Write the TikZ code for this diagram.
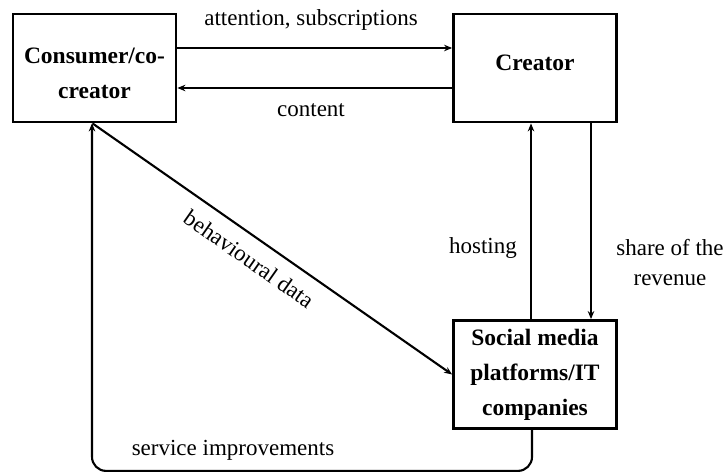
\documentclass[tikz,border=0pt]{standalone}
\usepackage{fontspec}
\setmainfont{Liberation Serif}
\usetikzlibrary{arrows.meta}
\begin{document}
\begin{tikzpicture}[x=1pt,y=-1pt,
  box/.style={draw, line width=2.8pt, minimum width=163pt, minimum height=108pt,
    align=center, font=\fontsize{23.5}{35}\selectfont\bfseries, inner sep=2pt},
  boxtext/.style={align=center, font=\fontsize{23.5}{35}\selectfont\bfseries, inner sep=0pt},
  conn/.style={line width=2.1pt, -{Stealth[length=8pt,width=6.5pt]}},
  lbl/.style={font=\fontsize{23}{30}\selectfont, align=center, inner sep=0pt}]
\useasboundingbox (0,0) rectangle (726,473);
\node[box] (cons) at (94.5,68) {};
\node[boxtext] (constext) at (94.5,73) {Consumer/co-\\creator};
\node[box] (crea) at (535,68) {};
\node[boxtext] (creatext) at (535,63) {Creator};
\node[box] (soc) at (535,374.5) {Social media\\platforms/IT\\companies};
\draw[conn] ([yshift=20pt]cons.east) -- ([yshift=20pt]crea.west);
\draw[conn] ([yshift=-20pt]crea.west) -- ([yshift=-20pt]cons.east);
\draw[conn] ([xshift=-4pt]soc.north) -- ([xshift=-4pt]crea.south);
\draw[conn] ([xshift=56pt]crea.south) -- ([xshift=56pt]soc.north);
\draw[conn] ([xshift=-2pt]cons.south) -- (soc.west);
\draw[conn, rounded corners=14pt] ([xshift=-3pt]soc.south) -- ++(0,41) -| ([xshift=-2.5pt]cons.south);
\node[lbl] (l1) at (311,20) {attention, subscriptions};
\node[lbl] (l2) at (311,110) {content};
\node[lbl, anchor=east] (l3) at (517,248) {hosting};
\node[lbl] (l4) at (670,263) {share of the\\revenue};
\node[lbl, rotate=-35] (l5) at (249,259) {behavioural data};
\node[lbl] (l6) at (233,450) {service improvements};
\end{tikzpicture}
\end{document}
